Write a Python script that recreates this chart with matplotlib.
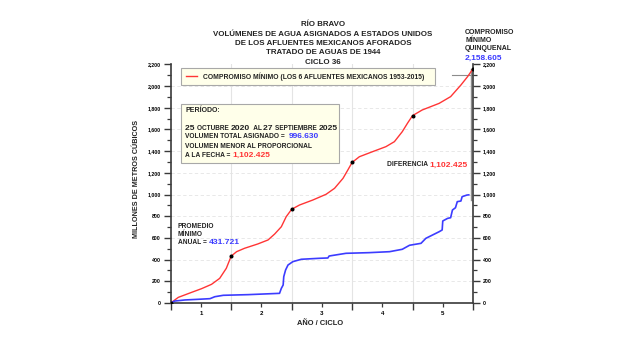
import matplotlib
matplotlib.use("Agg")
import matplotlib.pyplot as plt
from matplotlib.patches import Rectangle
from matplotlib.transforms import Affine2D

plt.rcParams['font.family'] = ['Liberation Sans', 'DejaVu Sans']
plt.rcParams['font.weight'] = 'bold'

# Compromiso minimo (acumulado, hm3) vs año del ciclo
red_year = [0, 0.126, 0.345, 0.51, 0.675, 0.81, 0.92, 1.0, 1.09, 1.22, 1.44, 1.61,
            1.72, 1.83, 1.91, 2.0, 2.13, 2.35, 2.57, 2.71, 2.85, 2.93, 3.0, 3.12,
            3.34, 3.56, 3.70, 3.83, 3.92, 4.0, 4.16, 4.44, 4.63, 4.80, 4.91, 5.0]
red_val = [0, 52, 98, 132, 172, 227, 320, 431.721, 473, 504, 544, 581,
           636, 703, 795, 863.442, 903, 949, 1002, 1057, 1149, 1226, 1295.163, 1348,
           1395, 1441, 1487, 1579, 1660, 1726.884, 1779, 1840, 1902, 2009, 2086, 2158.605]

# Volumen asignado (acumulado)
blue_year = [0, 0.066, 0.236, 0.455, 0.65, 0.73, 0.87, 1.28, 1.8, 1.83, 1.86, 1.87,
             1.90, 1.94, 2.02, 2.16, 2.46, 2.6, 2.62, 2.9, 3.28, 3.62, 3.83, 3.95,
             4.14, 4.22, 4.44, 4.49, 4.5, 4.58, 4.63, 4.66, 4.71, 4.74, 4.80, 4.82,
             4.9, 4.93]
blue_val = [0, 18, 28, 34, 40, 58, 71, 77, 89, 135, 166, 243,
            304, 350, 381, 403, 412, 415, 433, 458, 464, 473, 495, 532,
            550, 596, 657, 673, 756, 780, 786, 857, 878, 934, 940, 980,
            995, 996.63]

dot_year = [0, 1, 2, 3, 4, 5]
dot_val = [0, 431.721, 863.442, 1295.163, 1726.884, 2158.605]

year_labels = ['1', '2', '3', '4', '5']

RED = '#ff3535'
BLUE = '#3c3cff'
AX = '#3a3a3a'
K = '#222222'

fig = plt.figure(figsize=(6.24, 3.51), dpi=100)
# pixel coords, y down
px = Affine2D().scale(1 / 624, -1 / 351).translate(0, 1) + fig.transFigure
renderer = fig.canvas.get_renderer()

ax = fig.add_axes([170.7 / 624, 1 - 303 / 351, (473 - 170.7) / 624, (303 - 64.3) / 351])
ax.set_xlim(0, 5)
ax.set_ylim(0, 2200)

for x in range(1, 5):
    ax.axvline(x, color='#e4e4e4', lw=0.8, zorder=0)
for y in range(200, 2200, 200):
    ax.axhline(y, color='#e4e4e4', lw=0.6, ls=(0, (4, 3)), zorder=0)

ax.plot(red_year, red_val, color=RED, lw=1.0, zorder=3)
ax.plot(blue_year, blue_val, color=BLUE, lw=1.2, zorder=3)
ax.plot(dot_year, dot_val, 'o', color='black', ms=1.9, zorder=4)

# diferencia
ax.plot([4.97, 4.97], [950, 2158.605], color='#8c8c8c', lw=1.0, zorder=2)
ax.plot([4.66, 5.0], [2100, 2100], color='#8c8c8c', lw=0.8, zorder=2)

ax.spines['top'].set_visible(False)
for s in ['left', 'right', 'bottom']:
    ax.spines[s].set_color(AX)
    ax.spines[s].set_linewidth(1.2)

ax.set_yticks(range(0, 2201, 200))
ax.set_yticklabels([f'{v:,}' for v in range(0, 2201, 200)])
ax.set_yticks(range(100, 2200, 200), minor=True)
ax.set_xticks(range(0, 6))
ax.set_xticklabels([])
ax.set_xticks([0.5, 1.5, 2.5, 3.5, 4.5], minor=True)
ax.set_xticklabels(year_labels, minor=True)
ax.tick_params(axis='y', which='both', left=True, right=True, labelleft=True,
               labelright=True, direction='out', color=AX, labelsize=3.7, pad=2)
ax.tick_params(axis='y', which='major', length=5, width=1.0)
ax.tick_params(axis='y', which='minor', length=3, width=0.9)
ax.tick_params(axis='x', which='major', length=5, width=1.0, color=AX)
ax.tick_params(axis='x', which='minor', length=3, width=0.9, color=AX,
               labelsize=4.4, pad=3)

# titulos
title = ['RÍO BRAVO', 'VOLÚMENES DE AGUA ASIGNADOS A ESTADOS UNIDOS',
         'DE LOS AFLUENTES MEXICANOS AFORADOS', 'TRATADO DE AGUAS DE 1944', 'CICLO 36']
for i, t in enumerate(title):
    fig.text(323, 25 + i * 9.25, t, transform=px, ha='center', va='center',
             fontsize=5.7, color=K)

fig.text(136.7, 179, 'MILLONES DE METROS CÚBICOS', transform=px, rotation=90,
         ha='center', va='center', fontsize=5.2, color=K)
fig.text(320, 323.7, 'AÑO / CICLO', transform=px, ha='center', va='center',
         fontsize=5.4, color=K)

# leyenda
fig.patches.append(Rectangle((181, 68), 254, 16.5, transform=px, facecolor='#ffffea',
                             edgecolor='#a8a8a8', lw=0.8, zorder=5))
fig.lines.append(plt.Line2D([186, 197], [76, 76], transform=px, color=RED, lw=1.0, zorder=6))
fig.text(203, 76.3, 'COMPROMISO MÍNIMO (LOS 6 AFLUENTES MEXICANOS 1953-2015)', transform=px,
         ha='left', va='center', fontsize=4.9, color=K, zorder=6)

# caja periodo
fig.patches.append(Rectangle((181, 104), 158, 59, transform=px, facecolor='#ffffea',
                             edgecolor='#a8a8a8', lw=0.8, zorder=5))


def chain(x, y, parts):
    # pieces of text one after another on the same baseline
    for txt, size, color in parts:
        t = fig.text(x, y, txt, transform=px, ha='left', va='baseline',
                     fontsize=size, color=color, zorder=6)
        x += t.get_window_extent(renderer).width


chain(185, 112.5, [('PERÍODO:', 5.0, K)])
chain(185, 129.5, [('25 ', 6.1, K), ('OCTUBRE ', 4.7, K), ('2020', 6.1, K), ('  AL ', 4.7, K),
                   ('27 ', 6.1, K), ('SEPTIEMBRE ', 4.7, K), ('2025', 6.1, K)])
chain(185, 138.5, [('VOLUMEN TOTAL ASIGNADO =  ', 4.8, K), ('996.630', 6.0, BLUE)])
chain(185, 147.5, [('VOLUMEN MENOR AL PROPORCIONAL', 4.8, K)])
chain(185, 157, [('A LA FECHA = ', 4.8, K), ('1,102.425', 6.0, RED)])

# anotaciones
chain(178, 228, [('PROMEDIO', 4.8, K)])
chain(178, 236, [('MÍNIMO', 4.8, K)])
chain(178, 244.5, [('ANUAL = ', 4.8, K), ('431.721', 6.1, BLUE)])

chain(386.7, 166.5, [('DIFERENCIA ', 4.8, K), ('1,102.425', 6.1, RED)])

chain(465, 33.5, [('COMPROMISO', 5.0, K)])
chain(465, 42, [('MÍNIMO', 5.0, K)])
chain(465, 50, [('QUINQUENAL', 5.0, K)])
chain(465, 59.5, [('2,158.605', 6.0, BLUE)])

fig.savefig('out.png', dpi=100, facecolor='white')
